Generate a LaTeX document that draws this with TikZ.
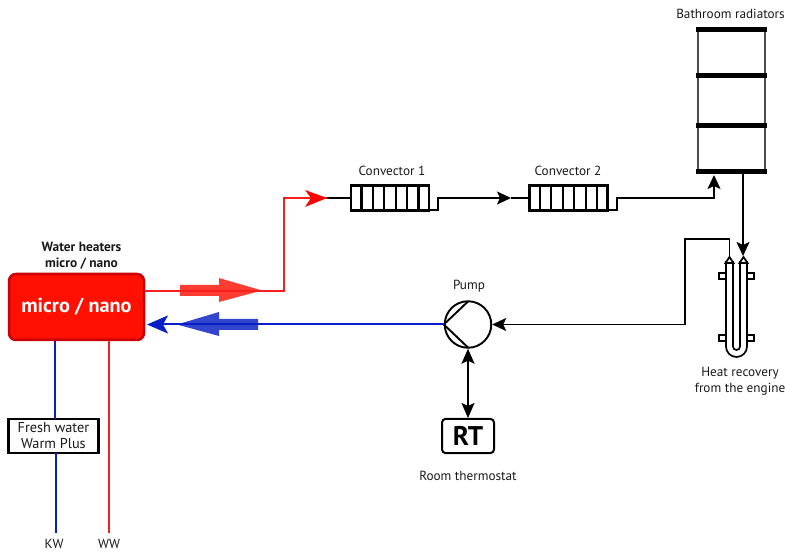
\documentclass[tikz,border=0pt]{standalone}
\usepackage{fontspec}
\setmainfont{PT Sans}
\usetikzlibrary{arrows.meta,calc}
\definecolor{hotred}{RGB}{255,16,0}
\definecolor{darkred}{RGB}{200,0,10}
\definecolor{linered}{RGB}{250,30,30}
\definecolor{lineblue}{RGB}{10,30,200}
\definecolor{softred}{RGB}{255,60,50}
\definecolor{softblue}{RGB}{50,70,205}
\tikzset{
 lbl/.style={inner sep=0pt,align=center,font=\fontsize{13.2}{15.5}\selectfont,text=black!90},
 boldlbl/.style={lbl,font=\fontsize{13.4}{16}\selectfont\bfseries},
 pipe/.style={draw=black,line width=1.9pt},
 hot/.style={draw=linered,line width=2pt},
 cold/.style={draw=lineblue,line width=2pt},
 blacktip/.style={-{Stealth[length=14pt,width=13pt,inset=3pt]}},
 bothtip/.style={{Stealth[length=15pt,width=13pt,inset=3pt]}-{Stealth[length=15pt,width=13pt,inset=3pt]}},
 bar/.style={draw=black,line width=5pt},
 rail/.style={draw=black!70,line width=1.6pt},
 convbox/.style={draw=black,line width=2.2pt,fill=white,minimum width=78pt,minimum height=25pt,inner sep=0pt},
 lug/.style={draw=black,line width=1.7pt,fill=white},
}
\newcommand{\cellwalls}[1]{%
  \foreach \k in {1,...,6}{
    \draw[line width=2.3pt] ($(#1.south west)!\k/7!(#1.south east)$) -- ($(#1.north west)!\k/7!(#1.north east)$);
  }}
\begin{document}
\begin{tikzpicture}[x=1pt,y=-1pt]
\useasboundingbox (0,0) rectangle (785,553);
% big flow arrows
\fill[softred] (180,285) -- (219,285) -- (219,278) -- (262,290.5) -- (219,302) -- (219,296) -- (180,296) -- cycle;
\fill[softblue] (258,319) -- (219,319) -- (219,312) -- (177,324.5) -- (219,336) -- (219,330) -- (258,330) -- cycle;
% nodes
\node[draw=darkred,line width=2.5pt,fill=hotred,rounded corners=7pt,minimum width=135pt,minimum height=66pt,inner sep=0pt,text=white,font=\fontsize{20.3}{24}\selectfont\bfseries] (heater) at (76.5,307) {micro / nano};
\node[boldlbl] (heaterlabel) at (81.5,255.5) {Water heaters\\micro / nano};
\node[convbox] (convA) at (390,198) {};
\node[convbox] (convB) at (568.5,198) {};
\cellwalls{convA}
\cellwalls{convB}
\node[lbl] (convAlabel) at (392,171) {Convector 1};
\node[lbl] (convBlabel) at (568,171) {Convector 2};
\node[lbl] (radlabel) at (730.5,14) {Bathroom radiators};
\node[lbl] (hxlabel) at (740,381.5) {Heat recovery\\from the engine};
\node[draw=black,line width=1.9pt,circle,minimum size=46.5pt,inner sep=0pt,fill=white] (pump) at (468,324.5) {};
\node[lbl] (pumplabel) at (469,286) {Pump};
\node[draw=black,line width=2pt,rounded corners=3.5pt,minimum width=52pt,minimum height=34pt,inner sep=0pt,font=\fontsize{27}{30}\selectfont\bfseries] (rt) at (468,436) {RT};
\node[lbl] (rtlabel) at (468,476) {Room thermostat};
\node[draw=black,line width=2.2pt,fill=white,minimum width=90pt,minimum height=34pt,inner sep=0pt,lbl,font=\fontsize{14.3}{16}\selectfont] (fresh) at (53.5,436) {Fresh water\\Warm Plus};
\node[lbl] (kw) at (54,544) {KW};
\node[lbl] (ww) at (109,544) {WW};
% free points
\coordinate (hotA) at (145,291);
\coordinate (hotB) at (284,291);
\coordinate (hotC) at (284,198);
\coordinate (hotD) at (327,198);
\coordinate (coldtip) at (147,324.5);
\coordinate (radin) at (714,175);
\coordinate (radout) at (743,172);
\coordinate (hxin) at (743,256);
\coordinate (hxback) at (729.5,258);
% pump impeller
\draw[line width=1.9pt] (pump.west) -- (468,301.5) (pump.west) -- (468,347.5);
% radiators
\draw[rail] (698,30) -- (698,172) (765,30) -- (765,172);
\foreach \yy in {30,76,126,172}{
  \draw[bar] (696,\yy) -- (767,\yy);
}
% heat exchanger
\foreach \xa/\xb/\yy in {719/726/273,719/726/335,747/754/273,747/754/335}{
  \draw[lug] (\xa,\yy) rectangle (\xb,\yy+6);
}
\draw[line width=1.7pt,fill=white] (726,262) -- (726,346.5) arc[start angle=180,end angle=0,x radius=10.5,y radius=10.5] -- (747,262) -- (740,262) -- (740,346.5) arc[start angle=0,end angle=180,x radius=3.5,y radius=3.5] -- (733,262) -- cycle;
\draw[line width=1.7pt,fill=white,line join=miter] (729.5,257) -- (733.5,263) -- (725.5,263) -- cycle;
\draw[line width=1.7pt,fill=white,line join=miter] (743.5,257) -- (747.5,263) -- (739.5,263) -- cycle;
% connectors
\draw[hot] (hotA) -- (hotB) -- (hotC) -- (hotD);
\fill[red] (305,190) -- (327,198) -- (305,207) -- (311,198) -- cycle;
\draw[pipe] (hotD) -- (convA.west);
\draw[pipe,blacktip] (429,210) -- (438,210) -- (438,198) -- (511,198);
\draw[pipe] (511,198) -- (convB.west);
\draw[pipe,blacktip] (608,210) -- (617,210) -- (617,198) -- (714,198) -- (radin);
\draw[pipe,blacktip] (radout) -- (hxin);
\draw[pipe,blacktip] (hxback) -- (729.5,239) -- (685,239) -- (685,324.5) -- (pump.east);
\draw[cold,-{Stealth[length=21pt,width=18pt,inset=5pt]}] (pump.west) -- (coldtip);
\draw[pipe,bothtip] (pump.south) -- (rt.north);
\draw[cold] (55,341) -- (55,419);
\draw[cold] (56,453) -- (56,533);
\draw[hot] (109,341) -- (109,533);
\end{tikzpicture}
\end{document}
